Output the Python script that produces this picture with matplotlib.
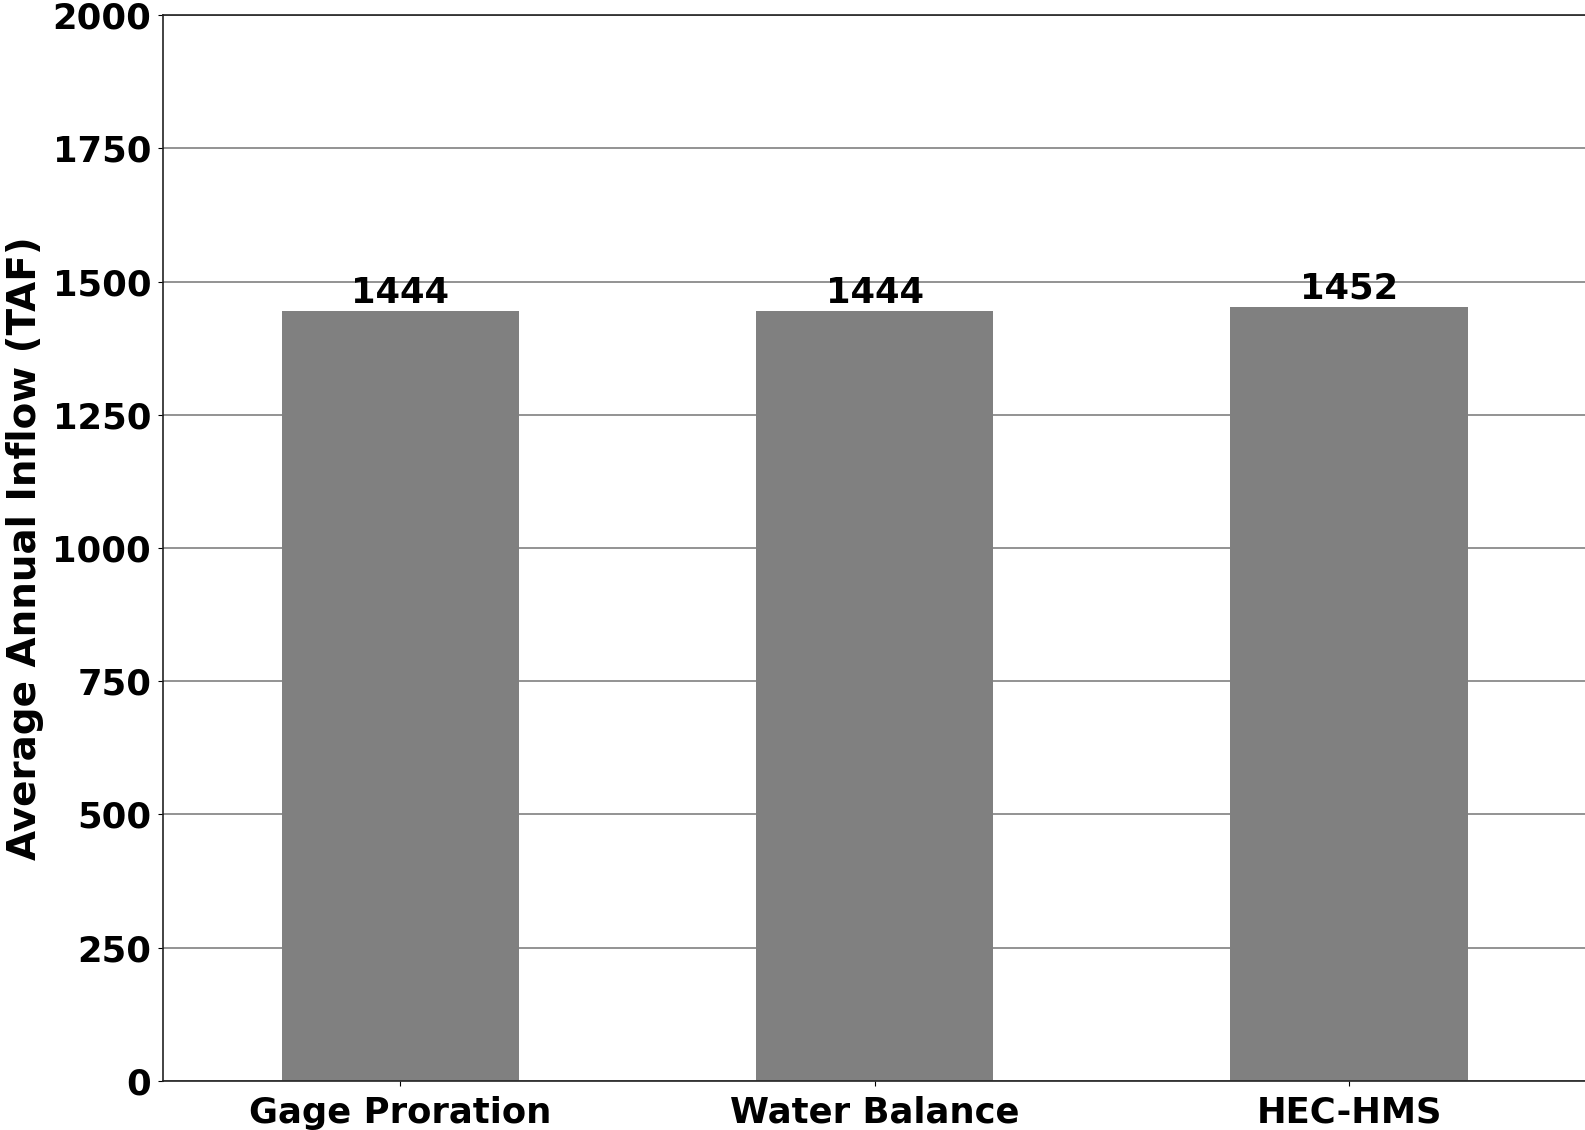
import matplotlib
matplotlib.use("Agg")
import matplotlib.pyplot as plt
import numpy as np

# data
methods = ["Gage Proration", "Water Balance", "HEC-HMS"]
inflow = [1444, 1444, 1452]
yticks = [0, 250, 500, 750, 1000, 1250, 1500, 1750, 2000]

fig = plt.figure(figsize=(15.85, 11.3), dpi=100)
ax = fig.add_axes([0.1028, 0.0434, 0.898, 0.9433])

x = np.arange(len(methods))
bars = ax.bar(x, inflow, width=0.5, color="grey", linewidth=0, zorder=2)

for xi, v in zip(x, inflow):
    ax.annotate(str(v), (xi, v), xytext=(0, 1), textcoords="offset points",
                ha="center", va="bottom", fontsize=25.5, fontweight="heavy")

ax.set_xlim(-0.5, 2.5)
ax.set_ylim(0, 2000)
ax.set_yticks(yticks)
ax.set_xticks(x)
ax.set_xticklabels(methods, fontsize=25.5, fontweight="heavy")
ax.set_yticklabels([str(t) for t in yticks], fontsize=25.5, fontweight="heavy")
ax.tick_params(axis="x", pad=7)
ax.tick_params(axis="y", pad=5)
ax.yaxis.grid(True, color="grey", linewidth=1.2, zorder=0)
ax.set_axisbelow(True)
ax.set_ylabel("Average Annual Inflow (TAF)", fontsize=28, fontweight="heavy", labelpad=6)

for s in ax.spines.values():
    s.set_linewidth(1.2)
    s.set_color("#222222")

fig.savefig("out.png", dpi=100)
